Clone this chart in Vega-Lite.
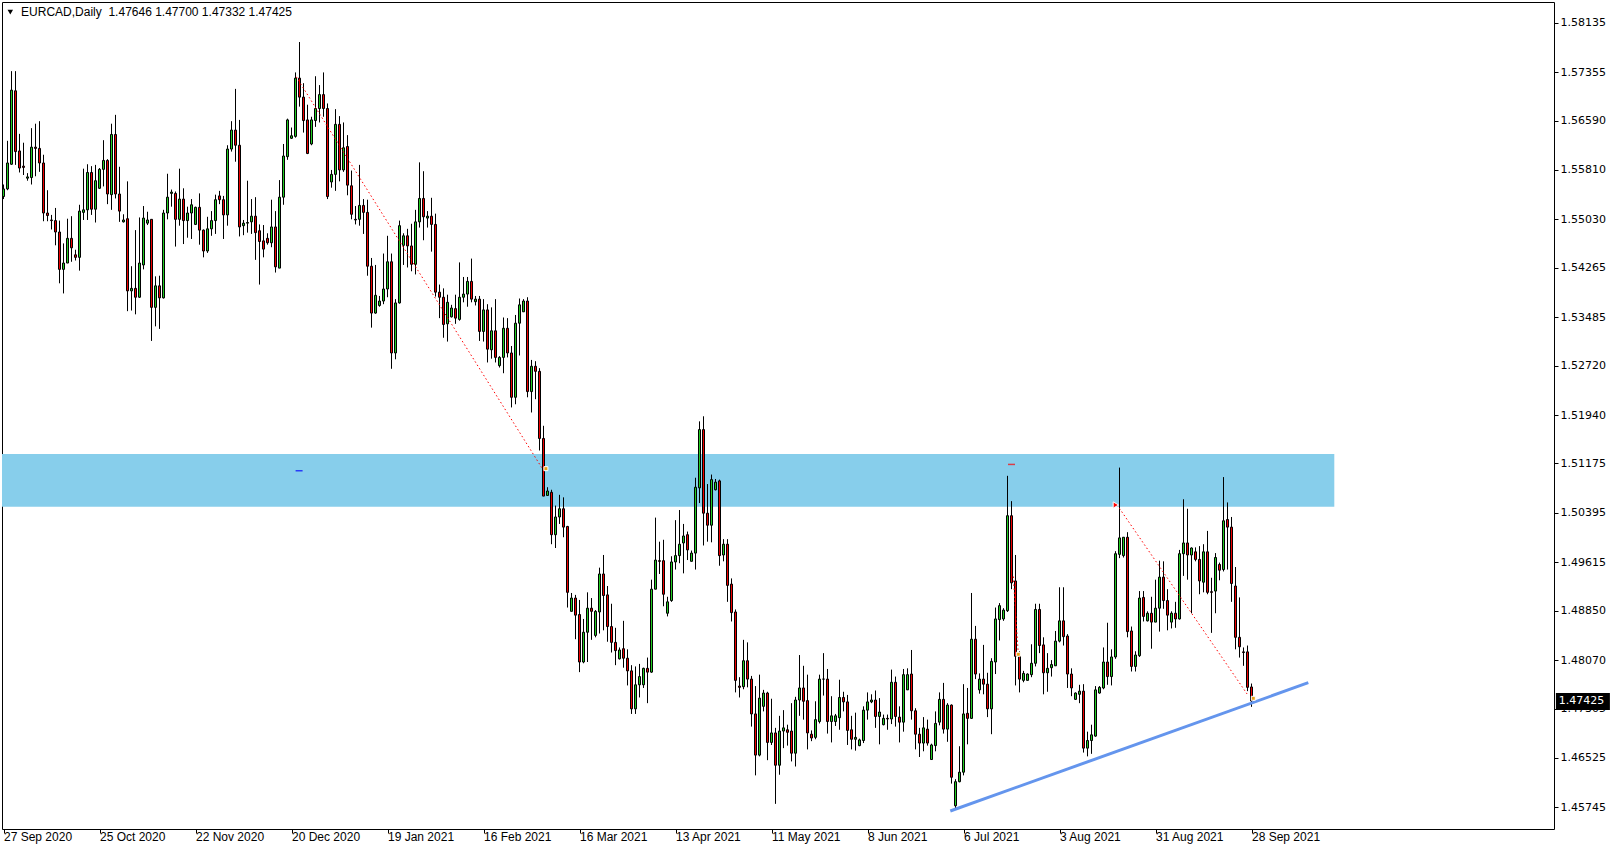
{
"$schema": "https://vega.github.io/schema/vega-lite/v6.json",
"width": 1552, "height": 827,
"autosize": {"type": "none"},
"padding": {"left": 2, "top": 2, "right": 64, "bottom": 21},
"background": "white",
"config": {"view": {"stroke": "black", "strokeWidth": 1}},
"datasets": {
"candles": [
{"i":0,"o":1.5539,"h":1.5558,"l":1.5535,"c":1.5551},
{"i":1,"o":1.5551,"h":1.5627,"l":1.5549,"c":1.5592},
{"i":2,"o":1.5590,"h":1.5737,"l":1.5589,"c":1.5707},
{"i":3,"o":1.5706,"h":1.5737,"l":1.5589,"c":1.5610},
{"i":4,"o":1.5611,"h":1.5638,"l":1.5577,"c":1.5584},
{"i":5,"o":1.5587,"h":1.5624,"l":1.5573,"c":1.5585},
{"i":6,"o":1.5568,"h":1.5576,"l":1.5564,"c":1.5570},
{"i":7,"o":1.5569,"h":1.5647,"l":1.5558,"c":1.5617},
{"i":8,"o":1.5617,"h":1.5654,"l":1.5571,"c":1.5615},
{"i":9,"o":1.5615,"h":1.5658,"l":1.5578,"c":1.5592},
{"i":10,"o":1.5592,"h":1.5605,"l":1.5500,"c":1.5513},
{"i":11,"o":1.5513,"h":1.5549,"l":1.5500,"c":1.5509},
{"i":12,"o":1.5502,"h":1.5510,"l":1.5487,"c":1.5501},
{"i":13,"o":1.5501,"h":1.5521,"l":1.5462,"c":1.5483},
{"i":14,"o":1.5483,"h":1.5501,"l":1.5402,"c":1.5424},
{"i":15,"o":1.5424,"h":1.5465,"l":1.5386,"c":1.5434},
{"i":16,"o":1.5434,"h":1.5504,"l":1.5434,"c":1.5473},
{"i":17,"o":1.5473,"h":1.5508,"l":1.5436,"c":1.5458},
{"i":18,"o":1.5447,"h":1.5455,"l":1.5438,"c":1.5443},
{"i":19,"o":1.5443,"h":1.5526,"l":1.5422,"c":1.5516},
{"i":20,"o":1.5514,"h":1.5583,"l":1.5502,"c":1.5518},
{"i":21,"o":1.5518,"h":1.5590,"l":1.5502,"c":1.5577},
{"i":22,"o":1.5577,"h":1.5587,"l":1.5510,"c":1.5519},
{"i":23,"o":1.5519,"h":1.5589,"l":1.5498,"c":1.5564},
{"i":24,"o":1.5552,"h":1.5584,"l":1.5551,"c":1.5582},
{"i":25,"o":1.5582,"h":1.5628,"l":1.5555,"c":1.5596},
{"i":26,"o":1.5596,"h":1.5598,"l":1.5527,"c":1.5543},
{"i":27,"o":1.5542,"h":1.5654,"l":1.5518,"c":1.5637},
{"i":28,"o":1.5637,"h":1.5668,"l":1.5536,"c":1.5543},
{"i":29,"o":1.5543,"h":1.5586,"l":1.5499,"c":1.5516},
{"i":30,"o":1.5499,"h":1.5511,"l":1.5498,"c":1.5502},
{"i":31,"o":1.5504,"h":1.5563,"l":1.5358,"c":1.5390},
{"i":32,"o":1.5390,"h":1.5429,"l":1.5359,"c":1.5394},
{"i":33,"o":1.5394,"h":1.5486,"l":1.5353,"c":1.5380},
{"i":34,"o":1.5380,"h":1.5506,"l":1.5379,"c":1.5434},
{"i":35,"o":1.5431,"h":1.5524,"l":1.5424,"c":1.5505},
{"i":36,"o":1.5497,"h":1.5515,"l":1.5494,"c":1.5502},
{"i":37,"o":1.5503,"h":1.5503,"l":1.5311,"c":1.5364},
{"i":38,"o":1.5364,"h":1.5413,"l":1.5334,"c":1.5398},
{"i":39,"o":1.5398,"h":1.5414,"l":1.5330,"c":1.5379},
{"i":40,"o":1.5379,"h":1.5518,"l":1.5378,"c":1.5513},
{"i":41,"o":1.5513,"h":1.5575,"l":1.5503,"c":1.5538},
{"i":42,"o":1.5544,"h":1.5550,"l":1.5523,"c":1.5546},
{"i":43,"o":1.5544,"h":1.5547,"l":1.5460,"c":1.5503},
{"i":44,"o":1.5503,"h":1.5583,"l":1.5493,"c":1.5535},
{"i":45,"o":1.5535,"h":1.5552,"l":1.5464,"c":1.5501},
{"i":46,"o":1.5501,"h":1.5523,"l":1.5474,"c":1.5513},
{"i":47,"o":1.5513,"h":1.5535,"l":1.5472,"c":1.5526},
{"i":48,"o":1.5495,"h":1.5523,"l":1.5494,"c":1.5522},
{"i":49,"o":1.5522,"h":1.5544,"l":1.5463,"c":1.5486},
{"i":50,"o":1.5486,"h":1.5487,"l":1.5443,"c":1.5453},
{"i":51,"o":1.5453,"h":1.5507,"l":1.5450,"c":1.5488},
{"i":52,"o":1.5488,"h":1.5516,"l":1.5477,"c":1.5501},
{"i":53,"o":1.5501,"h":1.5542,"l":1.5480,"c":1.5534},
{"i":54,"o":1.5540,"h":1.5548,"l":1.5527,"c":1.5534},
{"i":55,"o":1.5534,"h":1.5540,"l":1.5472,"c":1.5510},
{"i":56,"o":1.5510,"h":1.5620,"l":1.5493,"c":1.5614},
{"i":57,"o":1.5614,"h":1.5658,"l":1.5610,"c":1.5644},
{"i":58,"o":1.5644,"h":1.5709,"l":1.5594,"c":1.5620},
{"i":59,"o":1.5620,"h":1.5660,"l":1.5476,"c":1.5491},
{"i":60,"o":1.5493,"h":1.5502,"l":1.5478,"c":1.5497},
{"i":61,"o":1.5497,"h":1.5564,"l":1.5482,"c":1.5498},
{"i":62,"o":1.5499,"h":1.5535,"l":1.5480,"c":1.5508},
{"i":63,"o":1.5508,"h":1.5538,"l":1.5439,"c":1.5482},
{"i":64,"o":1.5485,"h":1.5495,"l":1.5400,"c":1.5468},
{"i":65,"o":1.5469,"h":1.5494,"l":1.5443,"c":1.5456},
{"i":66,"o":1.5473,"h":1.5481,"l":1.5463,"c":1.5466},
{"i":67,"o":1.5466,"h":1.5534,"l":1.5459,"c":1.5491},
{"i":68,"o":1.5491,"h":1.5516,"l":1.5419,"c":1.5428},
{"i":69,"o":1.5426,"h":1.5565,"l":1.5426,"c":1.5538},
{"i":70,"o":1.5538,"h":1.5622,"l":1.5526,"c":1.5603},
{"i":71,"o":1.5602,"h":1.5662,"l":1.5597,"c":1.5660},
{"i":72,"o":1.5631,"h":1.5648,"l":1.5630,"c":1.5635},
{"i":73,"o":1.5634,"h":1.5735,"l":1.5632,"c":1.5726},
{"i":74,"o":1.5726,"h":1.5783,"l":1.5681,"c":1.5696},
{"i":75,"o":1.5696,"h":1.5718,"l":1.5640,"c":1.5659},
{"i":76,"o":1.5660,"h":1.5684,"l":1.5606,"c":1.5607},
{"i":77,"o":1.5622,"h":1.5665,"l":1.5620,"c":1.5660},
{"i":78,"o":1.5659,"h":1.5729,"l":1.5649,"c":1.5678},
{"i":79,"o":1.5678,"h":1.5715,"l":1.5656,"c":1.5700},
{"i":80,"o":1.5700,"h":1.5735,"l":1.5665,"c":1.5678},
{"i":81,"o":1.5678,"h":1.5686,"l":1.5535,"c":1.5539},
{"i":82,"o":1.5562,"h":1.5581,"l":1.5553,"c":1.5574},
{"i":83,"o":1.5574,"h":1.5677,"l":1.5548,"c":1.5653},
{"i":84,"o":1.5653,"h":1.5666,"l":1.5563,"c":1.5581},
{"i":85,"o":1.5581,"h":1.5656,"l":1.5578,"c":1.5616},
{"i":86,"o":1.5618,"h":1.5636,"l":1.5541,"c":1.5557},
{"i":87,"o":1.5556,"h":1.5580,"l":1.5503,"c":1.5511},
{"i":88,"o":1.5503,"h":1.5524,"l":1.5495,"c":1.5502},
{"i":89,"o":1.5503,"h":1.5589,"l":1.5493,"c":1.5525},
{"i":90,"o":1.5525,"h":1.5535,"l":1.5480,"c":1.5514},
{"i":91,"o":1.5514,"h":1.5534,"l":1.5414,"c":1.5429},
{"i":92,"o":1.5429,"h":1.5442,"l":1.5332,"c":1.5355},
{"i":93,"o":1.5355,"h":1.5431,"l":1.5354,"c":1.5383},
{"i":94,"o":1.5367,"h":1.5382,"l":1.5365,"c":1.5374},
{"i":95,"o":1.5374,"h":1.5449,"l":1.5369,"c":1.5393},
{"i":96,"o":1.5393,"h":1.5477,"l":1.5380,"c":1.5436},
{"i":97,"o":1.5436,"h":1.5449,"l":1.5267,"c":1.5292},
{"i":98,"o":1.5292,"h":1.5377,"l":1.5282,"c":1.5371},
{"i":99,"o":1.5371,"h":1.5501,"l":1.5370,"c":1.5493},
{"i":100,"o":1.5462,"h":1.5481,"l":1.5431,"c":1.5477},
{"i":101,"o":1.5477,"h":1.5488,"l":1.5427,"c":1.5461},
{"i":102,"o":1.5461,"h":1.5496,"l":1.5421,"c":1.5432},
{"i":103,"o":1.5432,"h":1.5518,"l":1.5416,"c":1.5499},
{"i":104,"o":1.5499,"h":1.5593,"l":1.5490,"c":1.5536},
{"i":105,"o":1.5536,"h":1.5579,"l":1.5470,"c":1.5507},
{"i":106,"o":1.5505,"h":1.5516,"l":1.5490,"c":1.5508},
{"i":107,"o":1.5508,"h":1.5537,"l":1.5452,"c":1.5495},
{"i":108,"o":1.5495,"h":1.5512,"l":1.5381,"c":1.5388},
{"i":109,"o":1.5388,"h":1.5400,"l":1.5347,"c":1.5380},
{"i":110,"o":1.5380,"h":1.5394,"l":1.5316,"c":1.5337},
{"i":111,"o":1.5338,"h":1.5384,"l":1.5310,"c":1.5372},
{"i":112,"o":1.5349,"h":1.5368,"l":1.5348,"c":1.5363},
{"i":113,"o":1.5362,"h":1.5384,"l":1.5338,"c":1.5347},
{"i":114,"o":1.5345,"h":1.5435,"l":1.5343,"c":1.5380},
{"i":115,"o":1.5380,"h":1.5412,"l":1.5372,"c":1.5385},
{"i":116,"o":1.5385,"h":1.5412,"l":1.5365,"c":1.5405},
{"i":117,"o":1.5405,"h":1.5441,"l":1.5372,"c":1.5377},
{"i":118,"o":1.5373,"h":1.5382,"l":1.5367,"c":1.5377},
{"i":119,"o":1.5377,"h":1.5382,"l":1.5311,"c":1.5326},
{"i":120,"o":1.5326,"h":1.5377,"l":1.5310,"c":1.5360},
{"i":121,"o":1.5360,"h":1.5369,"l":1.5277,"c":1.5298},
{"i":122,"o":1.5297,"h":1.5364,"l":1.5283,"c":1.5327},
{"i":123,"o":1.5327,"h":1.5377,"l":1.5277,"c":1.5285},
{"i":124,"o":1.5272,"h":1.5287,"l":1.5269,"c":1.5285},
{"i":125,"o":1.5285,"h":1.5348,"l":1.5260,"c":1.5331},
{"i":126,"o":1.5331,"h":1.5347,"l":1.5285,"c":1.5292},
{"i":127,"o":1.5292,"h":1.5303,"l":1.5206,"c":1.5222},
{"i":128,"o":1.5222,"h":1.5352,"l":1.5211,"c":1.5339},
{"i":129,"o":1.5339,"h":1.5378,"l":1.5288,"c":1.5368},
{"i":130,"o":1.5357,"h":1.5377,"l":1.5357,"c":1.5374},
{"i":131,"o":1.5374,"h":1.5380,"l":1.5222,"c":1.5231},
{"i":132,"o":1.5231,"h":1.5281,"l":1.5198,"c":1.5271},
{"i":133,"o":1.5271,"h":1.5279,"l":1.5219,"c":1.5263},
{"i":134,"o":1.5263,"h":1.5268,"l":1.5138,"c":1.5157},
{"i":135,"o":1.5157,"h":1.5177,"l":1.5066,"c":1.5066},
{"i":136,"o":1.5067,"h":1.5080,"l":1.5067,"c":1.5074},
{"i":137,"o":1.5072,"h":1.5076,"l":1.4990,"c":1.5005},
{"i":138,"o":1.5005,"h":1.5051,"l":1.4984,"c":1.5033},
{"i":139,"o":1.5033,"h":1.5068,"l":1.5022,"c":1.5046},
{"i":140,"o":1.5046,"h":1.5064,"l":1.5001,"c":1.5017},
{"i":141,"o":1.5018,"h":1.5019,"l":1.4890,"c":1.4914},
{"i":142,"o":1.4884,"h":1.4913,"l":1.4884,"c":1.4905},
{"i":143,"o":1.4905,"h":1.4910,"l":1.4840,"c":1.4878},
{"i":144,"o":1.4879,"h":1.4902,"l":1.4788,"c":1.4804},
{"i":145,"o":1.4804,"h":1.4872,"l":1.4802,"c":1.4851},
{"i":146,"o":1.4851,"h":1.4914,"l":1.4804,"c":1.4889},
{"i":147,"o":1.4889,"h":1.4905,"l":1.4839,"c":1.4884},
{"i":148,"o":1.4846,"h":1.4886,"l":1.4843,"c":1.4884},
{"i":149,"o":1.4883,"h":1.4953,"l":1.4849,"c":1.4943},
{"i":150,"o":1.4943,"h":1.4973,"l":1.4854,"c":1.4909},
{"i":151,"o":1.4910,"h":1.4924,"l":1.4836,"c":1.4860},
{"i":152,"o":1.4860,"h":1.4896,"l":1.4819,"c":1.4835},
{"i":153,"o":1.4835,"h":1.4858,"l":1.4799,"c":1.4822},
{"i":154,"o":1.4809,"h":1.4827,"l":1.4808,"c":1.4823},
{"i":155,"o":1.4825,"h":1.4869,"l":1.4795,"c":1.4810},
{"i":156,"o":1.4810,"h":1.4824,"l":1.4767,"c":1.4790},
{"i":157,"o":1.4790,"h":1.4799,"l":1.4722,"c":1.4730},
{"i":158,"o":1.4730,"h":1.4797,"l":1.4722,"c":1.4768},
{"i":159,"o":1.4768,"h":1.4801,"l":1.4748,"c":1.4781},
{"i":160,"o":1.4768,"h":1.4795,"l":1.4763,"c":1.4794},
{"i":161,"o":1.4794,"h":1.4811,"l":1.4739,"c":1.4788},
{"i":162,"o":1.4788,"h":1.4934,"l":1.4787,"c":1.4919},
{"i":163,"o":1.4919,"h":1.5032,"l":1.4919,"c":1.4965},
{"i":164,"o":1.4964,"h":1.4994,"l":1.4943,"c":1.4963},
{"i":165,"o":1.4964,"h":1.4997,"l":1.4892,"c":1.4911},
{"i":166,"o":1.4881,"h":1.4907,"l":1.4876,"c":1.4899},
{"i":167,"o":1.4901,"h":1.4971,"l":1.4899,"c":1.4962},
{"i":168,"o":1.4962,"h":1.5028,"l":1.4950,"c":1.4972},
{"i":169,"o":1.4972,"h":1.5044,"l":1.4960,"c":1.4990},
{"i":170,"o":1.4992,"h":1.5022,"l":1.4944,"c":1.5003},
{"i":171,"o":1.5005,"h":1.5010,"l":1.4965,"c":1.4981},
{"i":172,"o":1.4963,"h":1.4980,"l":1.4963,"c":1.4976},
{"i":173,"o":1.4976,"h":1.5095,"l":1.4950,"c":1.5080},
{"i":174,"o":1.5079,"h":1.5184,"l":1.5055,"c":1.5171},
{"i":175,"o":1.5171,"h":1.5192,"l":1.4988,"c":1.5039},
{"i":176,"o":1.5039,"h":1.5085,"l":1.4994,"c":1.5020},
{"i":177,"o":1.5020,"h":1.5100,"l":1.4993,"c":1.5092},
{"i":178,"o":1.5076,"h":1.5093,"l":1.5075,"c":1.5088},
{"i":179,"o":1.5090,"h":1.5092,"l":1.4956,"c":1.4972},
{"i":180,"o":1.4973,"h":1.4998,"l":1.4963,"c":1.4990},
{"i":181,"o":1.4990,"h":1.4998,"l":1.4899,"c":1.4925},
{"i":182,"o":1.4927,"h":1.4936,"l":1.4868,"c":1.4882},
{"i":183,"o":1.4883,"h":1.4887,"l":1.4756,"c":1.4775},
{"i":184,"o":1.4766,"h":1.4780,"l":1.4748,"c":1.4764},
{"i":185,"o":1.4765,"h":1.4839,"l":1.4761,"c":1.4806},
{"i":186,"o":1.4806,"h":1.4835,"l":1.4764,"c":1.4777},
{"i":187,"o":1.4777,"h":1.4782,"l":1.4702,"c":1.4722},
{"i":188,"o":1.4722,"h":1.4766,"l":1.4625,"c":1.4657},
{"i":189,"o":1.4657,"h":1.4784,"l":1.4655,"c":1.4747},
{"i":190,"o":1.4734,"h":1.4760,"l":1.4726,"c":1.4755},
{"i":191,"o":1.4755,"h":1.4757,"l":1.4649,"c":1.4677},
{"i":192,"o":1.4677,"h":1.4746,"l":1.4673,"c":1.4692},
{"i":193,"o":1.4692,"h":1.4700,"l":1.4580,"c":1.4641},
{"i":194,"o":1.4641,"h":1.4719,"l":1.4626,"c":1.4695},
{"i":195,"o":1.4695,"h":1.4728,"l":1.4668,"c":1.4700},
{"i":196,"o":1.4697,"h":1.4705,"l":1.4672,"c":1.4693},
{"i":197,"o":1.4695,"h":1.4739,"l":1.4647,"c":1.4660},
{"i":198,"o":1.4660,"h":1.4749,"l":1.4639,"c":1.4744},
{"i":199,"o":1.4744,"h":1.4815,"l":1.4719,"c":1.4763},
{"i":200,"o":1.4763,"h":1.4798,"l":1.4713,"c":1.4742},
{"i":201,"o":1.4743,"h":1.4784,"l":1.4666,"c":1.4692},
{"i":202,"o":1.4690,"h":1.4696,"l":1.4679,"c":1.4684},
{"i":203,"o":1.4685,"h":1.4742,"l":1.4682,"c":1.4713},
{"i":204,"o":1.4710,"h":1.4784,"l":1.4707,"c":1.4777},
{"i":205,"o":1.4777,"h":1.4818,"l":1.4751,"c":1.4777},
{"i":206,"o":1.4777,"h":1.4793,"l":1.4691,"c":1.4710},
{"i":207,"o":1.4710,"h":1.4750,"l":1.4677,"c":1.4719},
{"i":208,"o":1.4710,"h":1.4722,"l":1.4703,"c":1.4719},
{"i":209,"o":1.4716,"h":1.4776,"l":1.4697,"c":1.4748},
{"i":210,"o":1.4748,"h":1.4757,"l":1.4726,"c":1.4741},
{"i":211,"o":1.4741,"h":1.4752,"l":1.4673,"c":1.4696},
{"i":212,"o":1.4697,"h":1.4719,"l":1.4666,"c":1.4682},
{"i":213,"o":1.4682,"h":1.4724,"l":1.4664,"c":1.4685},
{"i":214,"o":1.4672,"h":1.4683,"l":1.4671,"c":1.4681},
{"i":215,"o":1.4680,"h":1.4734,"l":1.4676,"c":1.4728},
{"i":216,"o":1.4728,"h":1.4756,"l":1.4713,"c":1.4741},
{"i":217,"o":1.4741,"h":1.4753,"l":1.4739,"c":1.4744},
{"i":218,"o":1.4744,"h":1.4759,"l":1.4700,"c":1.4718},
{"i":219,"o":1.4718,"h":1.4747,"l":1.4674,"c":1.4725},
{"i":220,"o":1.4705,"h":1.4721,"l":1.4704,"c":1.4715},
{"i":221,"o":1.4715,"h":1.4721,"l":1.4697,"c":1.4714},
{"i":222,"o":1.4714,"h":1.4792,"l":1.4706,"c":1.4772},
{"i":223,"o":1.4772,"h":1.4781,"l":1.4702,"c":1.4718},
{"i":224,"o":1.4717,"h":1.4734,"l":1.4677,"c":1.4709},
{"i":225,"o":1.4709,"h":1.4793,"l":1.4694,"c":1.4784},
{"i":226,"o":1.4760,"h":1.4794,"l":1.4760,"c":1.4784},
{"i":227,"o":1.4785,"h":1.4823,"l":1.4713,"c":1.4727},
{"i":228,"o":1.4727,"h":1.4731,"l":1.4666,"c":1.4690},
{"i":229,"o":1.4690,"h":1.4700,"l":1.4654,"c":1.4676},
{"i":230,"o":1.4676,"h":1.4717,"l":1.4663,"c":1.4700},
{"i":231,"o":1.4698,"h":1.4713,"l":1.4672,"c":1.4676},
{"i":232,"o":1.4650,"h":1.4675,"l":1.4650,"c":1.4673},
{"i":233,"o":1.4672,"h":1.4726,"l":1.4663,"c":1.4707},
{"i":234,"o":1.4709,"h":1.4756,"l":1.4704,"c":1.4745},
{"i":235,"o":1.4745,"h":1.4771,"l":1.4691,"c":1.4698},
{"i":236,"o":1.4698,"h":1.4739,"l":1.4678,"c":1.4736},
{"i":237,"o":1.4736,"h":1.4737,"l":1.4612,"c":1.4622},
{"i":238,"o":1.4577,"h":1.4619,"l":1.4572,"c":1.4615},
{"i":239,"o":1.4615,"h":1.4671,"l":1.4614,"c":1.4630},
{"i":240,"o":1.4630,"h":1.4769,"l":1.4625,"c":1.4722},
{"i":241,"o":1.4723,"h":1.4763,"l":1.4674,"c":1.4715},
{"i":242,"o":1.4715,"h":1.4913,"l":1.4714,"c":1.4840},
{"i":243,"o":1.4840,"h":1.4861,"l":1.4777,"c":1.4785},
{"i":244,"o":1.4760,"h":1.4786,"l":1.4754,"c":1.4777},
{"i":245,"o":1.4777,"h":1.4831,"l":1.4753,"c":1.4769},
{"i":246,"o":1.4769,"h":1.4787,"l":1.4717,"c":1.4730},
{"i":247,"o":1.4730,"h":1.4810,"l":1.4690,"c":1.4805},
{"i":248,"o":1.4804,"h":1.4890,"l":1.4785,"c":1.4872},
{"i":249,"o":1.4871,"h":1.4897,"l":1.4838,"c":1.4893},
{"i":250,"o":1.4872,"h":1.4889,"l":1.4869,"c":1.4886},
{"i":251,"o":1.4885,"h":1.5098,"l":1.4883,"c":1.5035},
{"i":252,"o":1.5035,"h":1.5058,"l":1.4919,"c":1.4929},
{"i":253,"o":1.4932,"h":1.4973,"l":1.4767,"c":1.4813},
{"i":254,"o":1.4813,"h":1.4821,"l":1.4756,"c":1.4777},
{"i":255,"o":1.4775,"h":1.4790,"l":1.4772,"c":1.4786},
{"i":256,"o":1.4775,"h":1.4786,"l":1.4775,"c":1.4785},
{"i":257,"o":1.4784,"h":1.4832,"l":1.4780,"c":1.4802},
{"i":258,"o":1.4802,"h":1.4896,"l":1.4797,"c":1.4887},
{"i":259,"o":1.4887,"h":1.4896,"l":1.4818,"c":1.4830},
{"i":260,"o":1.4831,"h":1.4843,"l":1.4753,"c":1.4787},
{"i":261,"o":1.4787,"h":1.4818,"l":1.4757,"c":1.4794},
{"i":262,"o":1.4795,"h":1.4807,"l":1.4781,"c":1.4800},
{"i":263,"o":1.4798,"h":1.4853,"l":1.4798,"c":1.4837},
{"i":264,"o":1.4837,"h":1.4922,"l":1.4835,"c":1.4869},
{"i":265,"o":1.4869,"h":1.4922,"l":1.4830,"c":1.4844},
{"i":266,"o":1.4845,"h":1.4848,"l":1.4763,"c":1.4785},
{"i":267,"o":1.4785,"h":1.4794,"l":1.4750,"c":1.4763},
{"i":268,"o":1.4745,"h":1.4756,"l":1.4744,"c":1.4755},
{"i":269,"o":1.4753,"h":1.4768,"l":1.4739,"c":1.4758},
{"i":270,"o":1.4758,"h":1.4769,"l":1.4661,"c":1.4668},
{"i":271,"o":1.4668,"h":1.4694,"l":1.4655,"c":1.4680},
{"i":272,"o":1.4680,"h":1.4705,"l":1.4659,"c":1.4689},
{"i":273,"o":1.4687,"h":1.4766,"l":1.4686,"c":1.4760},
{"i":274,"o":1.4755,"h":1.4766,"l":1.4754,"c":1.4764},
{"i":275,"o":1.4763,"h":1.4827,"l":1.4761,"c":1.4804},
{"i":276,"o":1.4804,"h":1.4866,"l":1.4768,"c":1.4781},
{"i":277,"o":1.4781,"h":1.4824,"l":1.4767,"c":1.4812},
{"i":278,"o":1.4812,"h":1.4979,"l":1.4809,"c":1.4975},
{"i":279,"o":1.4974,"h":1.5111,"l":1.4968,"c":1.5000},
{"i":280,"o":1.4972,"h":1.5001,"l":1.4969,"c":1.5001},
{"i":281,"o":1.5001,"h":1.5009,"l":1.4843,"c":1.4852},
{"i":282,"o":1.4853,"h":1.4860,"l":1.4789,"c":1.4797},
{"i":283,"o":1.4797,"h":1.4821,"l":1.4789,"c":1.4815},
{"i":284,"o":1.4814,"h":1.4916,"l":1.4812,"c":1.4905},
{"i":285,"o":1.4906,"h":1.4916,"l":1.4868,"c":1.4876},
{"i":286,"o":1.4869,"h":1.4884,"l":1.4868,"c":1.4881},
{"i":287,"o":1.4881,"h":1.4907,"l":1.4825,"c":1.4867},
{"i":288,"o":1.4867,"h":1.4934,"l":1.4867,"c":1.4889},
{"i":289,"o":1.4889,"h":1.4964,"l":1.4852,"c":1.4938},
{"i":290,"o":1.4938,"h":1.4963,"l":1.4888,"c":1.4901},
{"i":291,"o":1.4901,"h":1.4919,"l":1.4854,"c":1.4878},
{"i":292,"o":1.4867,"h":1.4884,"l":1.4857,"c":1.4881},
{"i":293,"o":1.4881,"h":1.4899,"l":1.4858,"c":1.4872},
{"i":294,"o":1.4872,"h":1.4981,"l":1.4871,"c":1.4975},
{"i":295,"o":1.4975,"h":1.5061,"l":1.4940,"c":1.4992},
{"i":296,"o":1.4992,"h":1.5046,"l":1.4934,"c":1.4973},
{"i":297,"o":1.4973,"h":1.4985,"l":1.4881,"c":1.4984},
{"i":298,"o":1.4978,"h":1.4985,"l":1.4963,"c":1.4966},
{"i":299,"o":1.4966,"h":1.4987,"l":1.4911,"c":1.4932},
{"i":300,"o":1.4930,"h":1.4990,"l":1.4914,"c":1.4978},
{"i":301,"o":1.4978,"h":1.5011,"l":1.4911,"c":1.4914},
{"i":302,"o":1.4915,"h":1.4937,"l":1.4850,"c":1.4914},
{"i":303,"o":1.4916,"h":1.4976,"l":1.4881,"c":1.4969},
{"i":304,"o":1.4958,"h":1.4961,"l":1.4933,"c":1.4949},
{"i":305,"o":1.4950,"h":1.5096,"l":1.4947,"c":1.5027},
{"i":306,"o":1.5029,"h":1.5056,"l":1.4950,"c":1.5017},
{"i":307,"o":1.5017,"h":1.5033,"l":1.4899,"c":1.4928},
{"i":308,"o":1.4924,"h":1.4954,"l":1.4824,"c":1.4843},
{"i":309,"o":1.4843,"h":1.4906,"l":1.4811,"c":1.4828},
{"i":310,"o":1.4820,"h":1.4827,"l":1.4798,"c":1.4819},
{"i":311,"o":1.4820,"h":1.4830,"l":1.4758,"c":1.4764},
{"i":312,"o":1.47646,"h":1.47700,"l":1.47332,"c":1.47425}
]
},
"layer": [
{
"data": {"values": [{"t1": -5, "t2": 332.7, "p1": 1.50493, "p2": 1.51325}]},
"mark": {"type": "rect", "fill": "#87CEEB", "clip": true},
"encoding": {
"x": {"field": "t1", "type": "quantitative",
"scale": {"domain": [-0.375, 387.625], "nice": false, "zero": false, "padding": 0},
"axis": {"orient": "bottom", "values": [0,24,48,72,96,120,144,168,192,216,240,264,288,312],
"labelExpr": "['27 Sep 2020','25 Oct 2020','22 Nov 2020','20 Dec 2020','19 Jan 2021','16 Feb 2021','16 Mar 2021','13 Apr 2021','11 May 2021','8 Jun 2021','6 Jul 2021','3 Aug 2021','31 Aug 2021','28 Sep 2021'][round(datum.value/24)]",
"title": null, "grid": false, "domain": false, "ticks": true, "tickSize": 4, "tickColor": "black", "tickWidth": 1,
"labelAlign": "left", "labelBaseline": "top", "labelPadding": -2, "labelDx": -1,
"labelFont": "Liberation Sans", "labelFontSize": 12, "labelColor": "black",
"labelOverlap": false, "labelFlush": false, "labelBound": false}},
"x2": {"field": "t2"},
"y": {"field": "p1", "type": "quantitative",
"scale": {"domain": [1.45403, 1.58462], "nice": false, "zero": false, "padding": 0},
"axis": {"orient": "right", "values": [1.58135,1.57355,1.5659,1.5581,1.5503,1.54265,1.53485,1.5272,1.5194,1.51175,1.50395,1.49615,1.4885,1.4807,1.47305,1.46525,1.45745],
"format": ".5f", "title": null, "grid": false, "domain": false, "tickSize": 4, "tickColor": "black", "tickWidth": 1,
"labelPadding": 2, "labelAlign": "left", "labelBaseline": "middle",
"labelFont": "DejaVu Sans", "labelFontSize": 11, "labelColor": "black",
"labelOverlap": false, "labelFlush": false, "labelBound": false}},
"y2": {"field": "p2"}
}
},
{
"data": {"name": "candles"},
"mark": {"type": "rule", "color": "black", "strokeWidth": 1, "clip": true},
"encoding": {
"x": {"field": "i", "type": "quantitative"},
"y": {"field": "l", "type": "quantitative"},
"y2": {"field": "h"}
}
},
{
"data": {"name": "candles"},
"mark": {"type": "bar", "orient": "vertical", "width": 2, "stroke": "black", "strokeWidth": 1, "clip": true},
"encoding": {
"x": {"field": "i", "type": "quantitative"},
"y": {"field": "o", "type": "quantitative"},
"y2": {"field": "c"},
"fill": {"condition": {"test": "datum.c >= datum.o", "value": "#22CC22"}, "value": "#EE0000"}
}
},
{
"data": {"values": [{"t": 236.7, "p": 1.45687}, {"t": 326.2, "p": 1.47713}]},
"mark": {"type": "line", "color": "#6495ED", "strokeWidth": 3, "clip": true},
"encoding": {
"x": {"field": "t", "type": "quantitative"},
"y": {"field": "p", "type": "quantitative"}
}
},
{
"data": {"values": [
{"t1": 73.2, "p1": 1.5728, "t2": 134.55, "p2": 1.5111},
{"t1": 278.4, "p1": 1.5052, "t2": 310.9, "p2": 1.47535},
{"t1": 252.45, "p1": 1.4939, "t2": 253.7, "p2": 1.4816}
]},
"mark": {"type": "rule", "color": "#FF0000", "strokeWidth": 1, "strokeDash": [1.5, 2.5], "clip": true},
"encoding": {
"x": {"field": "t1", "type": "quantitative"},
"x2": {"field": "t2"},
"y": {"field": "p1", "type": "quantitative"},
"y2": {"field": "p2"}
}
},
{
"data": {"values": [{"t": 73.9, "p": 1.5106, "side": "buy"}, {"t": 252, "p": 1.5116, "side": "sell"}]},
"mark": {"type": "tick", "orient": "horizontal", "size": 7, "thickness": 1.5},
"encoding": {
"x": {"field": "t", "type": "quantitative"},
"y": {"field": "p", "type": "quantitative"},
"color": {"field": "side", "type": "nominal", "scale": {"domain": ["buy", "sell"], "range": ["#0000FF", "#FF0000"]}, "legend": null}
}
},
{
"data": {"values": [{"t": 135.6, "p": 1.51093}, {"t": 253.7, "p": 1.48162}, {"t": 312.45, "p": 1.47467}]},
"mark": {"type": "point", "shape": "square", "size": 16, "filled": true, "fill": "#E8A317", "stroke": "white", "strokeWidth": 1, "opacity": 1},
"encoding": {
"x": {"field": "t", "type": "quantitative"},
"y": {"field": "p", "type": "quantitative"}
}
},
{
"data": {"values": [{"t": 278.1, "p": 1.50519}]},
"mark": {"type": "point", "shape": "triangle-right", "size": 40, "filled": true, "fill": "#FF0000", "stroke": "white", "strokeWidth": 1, "opacity": 1},
"encoding": {
"x": {"field": "t", "type": "quantitative"},
"y": {"field": "p", "type": "quantitative"}
}
},
{
"data": {"values": [{"p": 1.47425}]},
"mark": {"type": "rect", "fill": "black", "clip": false},
"encoding": {
"x": {"datum": 388.1, "type": "quantitative"},
"x2": {"datum": 401.6},
"y": {"datum": 1.47551, "type": "quantitative"},
"y2": {"datum": 1.47282}
}
},
{
"data": {"values": [{"p": 1.47425}]},
"mark": {"type": "text", "align": "left", "baseline": "middle", "font": "DejaVu Sans", "fontSize": 11, "color": "white", "clip": false},
"encoding": {
"x": {"datum": 388.8, "type": "quantitative"},
"y": {"field": "p", "type": "quantitative"},
"text": {"field": "p", "type": "quantitative", "format": ".5f"}
}
},
{
"data": {"values": [{"label": "EURCAD,Daily\u00a0 1.47646 1.47700 1.47332 1.47425"}]},
"mark": {"type": "text", "align": "left", "baseline": "middle", "font": "Liberation Sans", "fontSize": 12, "color": "black", "clip": false},
"encoding": {
"x": {"datum": 4.4, "type": "quantitative"},
"y": {"datum": 1.58304, "type": "quantitative"},
"text": {"field": "label", "type": "nominal"}
}
},
{
"data": {"values": [{"label": "menu"}]},
"mark": {"type": "point", "shape": "triangle-down", "size": 30, "filled": true, "color": "black", "opacity": 1, "clip": false},
"encoding": {
"x": {"datum": 1.7, "type": "quantitative"},
"y": {"datum": 1.58304, "type": "quantitative"}
}
}
]
}
